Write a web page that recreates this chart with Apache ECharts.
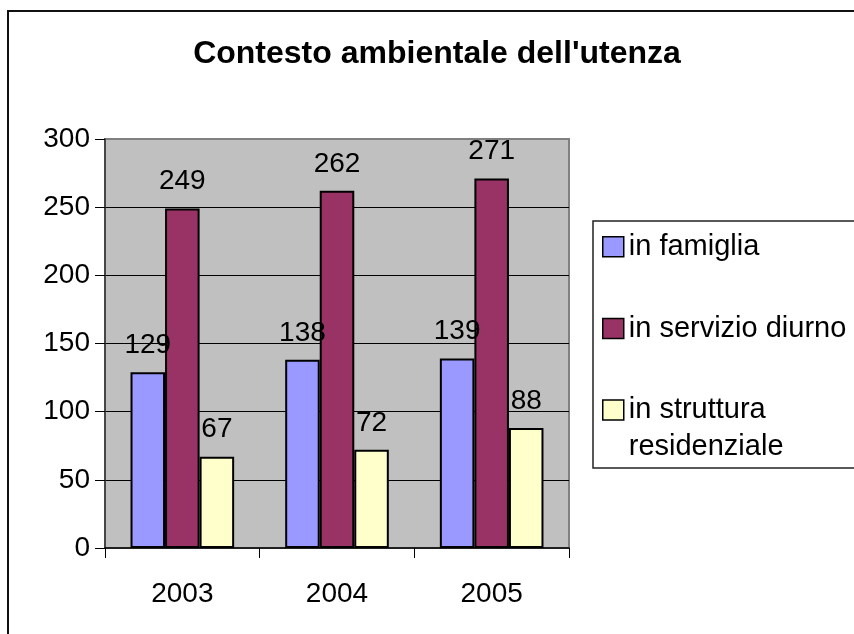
<!DOCTYPE html>
<html>
<head>
<meta charset="utf-8">
<script src="https://cdn.jsdelivr.net/npm/echarts@6/dist/echarts.min.js"></script>
<style>
  html, body { margin: 0; padding: 0; background: #fff; }
  #chart { width: 854px; height: 634px; }
</style>
</head>
<body>
<div id="chart"></div>
<script>
const years = ['2003', '2004', '2005'];
const seriesNames = ['in famiglia', 'in servizio diurno', 'in struttura\nresidenziale'];
const famiglia = [129, 138, 139];
const servizioDiurno = [249, 262, 271];
const strutturaResidenziale = [67, 72, 88];
const seriesColors = ['#9999FF', '#993366', '#FFFFCC'];

const FONT = '"Liberation Sans", Arial, sans-serif';

const chart = echarts.init(document.getElementById('chart'), null, { renderer: 'canvas' });

function barSeries(name, values, color) {
  return {
    name: name,
    type: 'bar',
    data: values,
    barGap: '0%',
    barCategoryGap: '33%',
    itemStyle: { color: color, borderColor: '#000', borderWidth: 2 },
    label: {
      show: true,
      position: 'top',
      distance: 13,
      color: '#000',
      fontFamily: FONT,
      fontSize: 28
    },
    emphasis: { disabled: true }
  };
}

// One legend per series so each entry can be placed on its own row.
// A two-line name gets a blank leading line, so its first line sits level with the swatch.
function legendEntry(name, top, multiLine) {
  return {
    data: [name],
    orient: 'vertical',
    left: 602,
    top: top,
    padding: 0,
    icon: 'rect',
    itemWidth: 21,
    itemHeight: 20,
    selectedMode: false,
    itemStyle: { borderColor: '#000', borderWidth: 1.5 },
    formatter: multiLine ? function (n) { return ' \n' + n; } : '{name}',
    textStyle: {
      color: '#000',
      fontFamily: FONT,
      fontSize: 29,
      lineHeight: 37
    }
  };
}

chart.setOption({
  animation: false,
  backgroundColor: '#fff',
  title: {
    text: "Contesto ambientale dell'utenza",
    left: 437,
    top: 38,
    padding: 0,
    textAlign: 'center',
    textStyle: {
      color: '#000',
      fontFamily: FONT,
      fontWeight: 'bold',
      fontSize: 32
    }
  },
  legend: [
    legendEntry(seriesNames[0], 228.2),
    legendEntry(seriesNames[1], 310),
    legendEntry(seriesNames[2], 354.5, true)
  ],
  grid: {
    left: 105,
    right: 285,
    top: 139,
    bottom: 86,
    show: true,
    backgroundColor: '#C0C0C0',
    borderColor: '#808080',
    borderWidth: 2,
    containLabel: false
  },
  xAxis: {
    type: 'category',
    data: years,
    axisLine: { show: true, lineStyle: { color: '#000', width: 1.5 } },
    axisTick: { show: true, length: 10, lineStyle: { color: '#000', width: 1 } },
    axisLabel: { color: '#000', fontFamily: FONT, fontSize: 28, margin: 32 },
    splitLine: { show: false }
  },
  yAxis: {
    type: 'value',
    min: 0,
    max: 300,
    interval: 50,
    axisLine: { show: true, lineStyle: { color: '#333', width: 1.5 } },
    axisTick: { show: true, length: 10, lineStyle: { color: '#000', width: 1 } },
    axisLabel: { color: '#000', fontFamily: FONT, fontSize: 28, margin: 15 },
    splitLine: { show: true, showMinLine: false, showMaxLine: false, lineStyle: { color: '#000', width: 1 } }
  },
  series: [
    barSeries(seriesNames[0], famiglia, seriesColors[0]),
    barSeries(seriesNames[1], servizioDiurno, seriesColors[1]),
    barSeries(seriesNames[2], strutturaResidenziale, seriesColors[2])
  ],
  graphic: [
    {
      type: 'rect',
      silent: true,
      shape: { x: 8, y: 11, width: 880, height: 660 },
      style: { fill: null, stroke: '#111', lineWidth: 2 },
      z: 100
    },
    {
      type: 'rect',
      silent: true,
      shape: { x: 593, y: 221, width: 300, height: 247 },
      style: { fill: null, stroke: '#222', lineWidth: 1.5 },
      z: 100
    }
  ]
});
</script>
</body>
</html>
